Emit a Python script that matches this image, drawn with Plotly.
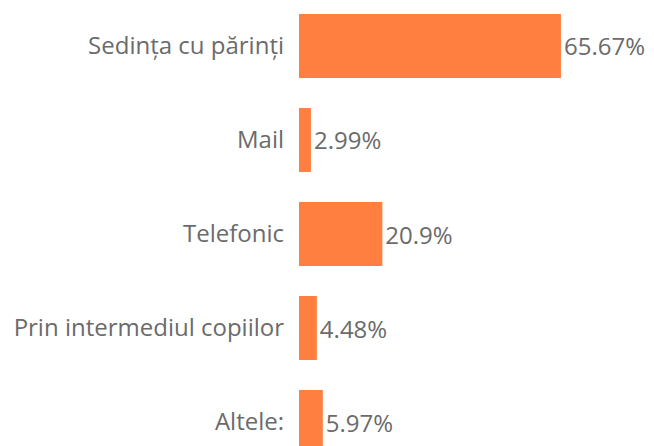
import plotly.graph_objects as go

categories = ["Sedința cu părinți", "Mail", "Telefonic", "Prin intermediul copiilor", "Altele:"]
values = [65.67, 2.99, 20.9, 4.48, 5.97]
labels = ["65.67%", "2.99%", "20.9%", "4.48%", "5.97%"]

fig = go.Figure()
fig.add_trace(go.Bar(
    y=categories,
    x=values,
    orientation="h",
    text=labels,
    textposition="outside",
    constraintext="none",
    cliponaxis=False,
    marker=dict(color="#FF7F41", line=dict(width=0)),
    textfont=dict(color="#6b6b6b", size=24, family="Open Sans"),
    hoverinfo="skip",
))

# page has an 8px body margin, so shift the plot up/left by that much
fig.update_layout(
    width=654,
    height=446,
    plot_bgcolor="white",
    paper_bgcolor="white",
    margin=dict(l=291, r=0, t=0, b=0),
    bargap=0.32,
    showlegend=False,
    font=dict(family="Open Sans", color="#6b6b6b", size=24),
    xaxis=dict(range=[0, 91.0], visible=False, showgrid=False, zeroline=False),
    yaxis=dict(
        range=[4.34, -0.404],
        showgrid=False,
        zeroline=False,
        showline=False,
        ticks="",
        ticklabelstandoff=14,
        tickfont=dict(size=24, color="#6b6b6b", family="Open Sans"),
    ),
)

fig.write_html("out.html")
